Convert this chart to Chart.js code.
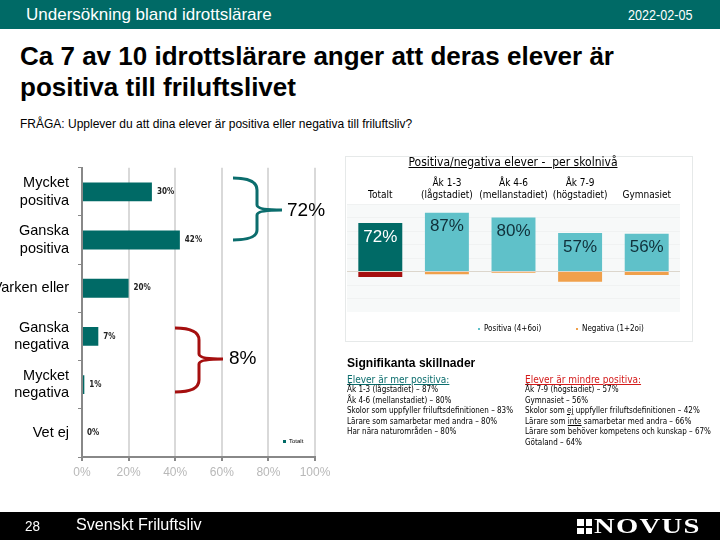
<!DOCTYPE html>
<html>
<head>
<meta charset="utf-8">
<script src="https://cdn.jsdelivr.net/npm/chart.js@4.4.1/dist/chart.umd.min.js"></script>
<style>
    body { margin: 0; width: 720px; height: 540px; position: relative; overflow: hidden; background: #fff;
           font-family: "Liberation Sans", Arial, sans-serif; }
    .abs { position: absolute; white-space: nowrap; }
    .narrow { font-family: "Liberation Sans", Arial, sans-serif; transform-origin: 0 0; }
    #header { left: 0; top: 0; width: 720px; height: 29px; background: #006a66; }
    #footer { left: 0; top: 512px; width: 720px; height: 28px; background: #000; }
    .sig { font-size: 8px; line-height: 10.5px; color: #000; font-family: "DejaVu Sans Condensed", sans-serif; }
</style>
</head>
<body>
<div id="header" class="abs"></div>
<div class="abs narrow" style="left:26px;top:5px;color:#fff;font-size:17px;">Undersökning bland idrottslärare</div>
<div class="abs narrow" style="left:628px;top:6px;color:#fff;font-size:15px;transform:scaleX(0.84);">2022-02-05</div>

<div class="abs narrow" style="left:20px;top:41px;font-size:26px;font-weight:bold;line-height:31px;color:#000;">Ca 7 av 10 idrottslärare anger att deras elever är<br>positiva till friluftslivet</div>
<div class="abs narrow" style="left:20px;top:117px;font-size:12px;color:#000;">FRÅGA: Upplever du att dina elever är positiva eller negativa till friluftsliv?</div>

<canvas id="leftChart" class="abs" style="left:0;top:150px;"></canvas>
<div class="abs" style="left:283px;top:438px;font-size:6px;color:#000;"><span style="display:inline-block;width:3px;height:3px;background:#006a66;margin-right:3px;vertical-align:middle;"></span>Totalt</div>

<svg class="abs" style="left:0;top:0;" width="720" height="540">
    <path d="M233 178 Q257 178 257 190 L257 205 Q257 210 282 210 Q257 210 257 215 L257 230 Q257 240 233 240"
          fill="none" stroke="#0b6d6d" stroke-width="3"/>
    <path d="M175 328 Q199 328 199 340 L199 354 Q199 359 223 359 Q199 359 199 364 L199 380 Q199 392 175 392"
          fill="none" stroke="#a50f0f" stroke-width="3"/>
</svg>
<div class="abs" style="left:287px;top:199px;font-size:19px;color:#000;">72%</div>
<div class="abs" style="left:229px;top:347px;font-size:19px;color:#000;">8%</div>

<div class="abs" style="left:345px;top:156px;width:346px;height:184px;border:1px solid #e6e9e9;"></div>
<div class="abs" style="left:345px;top:155px;width:336px;text-align:center;font-size:12px;text-decoration:underline;color:#000;font-family:'DejaVu Sans Condensed',sans-serif;">Positiva/negativa elever -&nbsp; per skolnivå</div>
<canvas id="rightChart" class="abs" style="left:347px;top:156px;"></canvas>
<div class="abs sig" style="left:478px;top:324px;"><span style="display:inline-block;width:2px;height:2px;background:#5fc1c9;margin-right:4px;vertical-align:middle;"></span>Positiva (4+6oi)</div>
<div class="abs sig" style="left:576px;top:324px;"><span style="display:inline-block;width:2px;height:2px;background:#f0a04b;margin-right:4px;vertical-align:middle;"></span>Negativa (1+2oi)</div>

<div class="abs" style="left:347px;top:355px;font-size:13px;font-weight:bold;color:#000;transform:scaleX(0.93);transform-origin:0 0;">Signifikanta skillnader</div>
<div class="abs sig" style="left:347px;top:374px;">
    <div style="font-size:10px;line-height:11px;color:#0b6d6d;text-decoration:underline;">Elever är mer positiva:</div>
    <div>Åk 1-3 (lågstadiet) – 87%</div>
    <div>Åk 4-6 (mellanstadiet) – 80%</div>
    <div>Skolor som uppfyller friluftsdefinitionen – 83%</div>
    <div>Lärare som samarbetar med andra – 80%</div>
    <div>Har nära naturområden – 80%</div>
</div>
<div class="abs sig" style="left:525px;top:374px;">
    <div style="font-size:10px;line-height:11px;color:#d41a1a;text-decoration:underline;">Elever är mindre positiva:</div>
    <div>Åk 7-9 (högstadiet) – 57%</div>
    <div>Gymnasiet – 56%</div>
    <div>Skolor som <u>ej</u> uppfyller friluftsdefinitionen – 42%</div>
    <div>Lärare som <u>inte</u> samarbetar med andra – 66%</div>
    <div>Lärare som behöver kompetens och kunskap – 67%</div>
    <div>Götaland – 64%</div>
</div>

<div id="footer" class="abs"></div>
<div class="abs narrow" style="left:25px;top:517px;color:#fff;font-size:15px;transform:scaleX(0.9);">28</div>
<div class="abs narrow" style="left:76px;top:515px;color:#fff;font-size:17px;transform:scaleX(0.95);">Svenskt Friluftsliv</div>
<div class="abs" style="left:577px;top:519px;width:15px;height:15px;background:
        linear-gradient(#000,#000) 7px 0/2px 15px no-repeat,
        linear-gradient(#000,#000) 0 7px/15px 2px no-repeat,#fff;"></div>
<div class="abs" style="left:594px;top:512px;color:#fff;font-size:22px;font-weight:bold;font-family:'Liberation Serif',serif;letter-spacing:1px;line-height:28px;transform:scaleX(1.3);transform-origin:0 0;">NOVUS</div>

<script>
// Left chart: answer distribution (Totalt)
const answerLabels = [['Mycket', 'positiva'], ['Ganska', 'positiva'], 'Varken eller', ['Ganska', 'negativa'], ['Mycket', 'negativa'], 'Vet ej'];
const answerValues = [30, 42, 20, 7, 1, 0];

// Right chart: positive / negative per school level
const levelLabels = ['Totalt', ['Åk 1-3', '(lågstadiet)'], ['Åk 4-6', '(mellanstadiet)'], ['Åk 7-9', '(högstadiet)'], 'Gymnasiet'];
const positiveValues = [72, 87, 80, 57, 56];
const negativeValues = [-8, -4, -2, -15, -5];

const TEAL = '#006a66';
const LIGHT_TEAL = '#5fc1c9';
const ORANGE = '#f0a04b';
const DARK_RED = '#a50f0f';

// Small value labels at the end of the horizontal bars
const barEndLabels = {
    id: 'barEndLabels',
    afterDatasetsDraw(chart) {
        const ctx = chart.ctx;
        const meta = chart.getDatasetMeta(0);
        ctx.save();
        ctx.font = 'bold 8px "DejaVu Sans Condensed", sans-serif';
        ctx.fillStyle = '#222';
        ctx.textBaseline = 'middle';
        meta.data.forEach((bar, i) => {
            ctx.fillText(answerValues[i] + '%', bar.x + 5, bar.y);
        });
        ctx.restore();
    }
};

// Chart area background and labels inside the positive bars
const levelDecor = {
    id: 'levelDecor',
    beforeDraw(chart) {
        const a = chart.chartArea;
        chart.ctx.save();
        chart.ctx.fillStyle = '#f7f9f9';
        chart.ctx.fillRect(a.left, a.top, a.right - a.left, a.bottom - a.top);
        chart.ctx.restore();
    },
    afterDatasetsDraw(chart) {
        const ctx = chart.ctx;
        const meta = chart.getDatasetMeta(0);
        ctx.save();
        ctx.font = '17px "Liberation Sans", Arial, sans-serif';
        ctx.textAlign = 'center';
        ctx.textBaseline = 'middle';
        meta.data.forEach((bar, i) => {
            ctx.fillStyle = i === 0 ? '#ffffff' : '#10303a';
            ctx.fillText(positiveValues[i] + '%', bar.x, bar.y + 14);
        });
        ctx.restore();
    }
};

function createAnswerChart() {
    const canvas = document.getElementById('leftChart');
    canvas.width = 335;
    canvas.height = 335;
    return new Chart(canvas, {
        type: 'bar',
        data: {
            labels: answerLabels,
            datasets: [{
                label: 'Totalt',
                data: answerValues,
                backgroundColor: TEAL,
                barPercentage: 0.39,
                categoryPercentage: 1
            }]
        },
        options: {
            indexAxis: 'y',
            responsive: false,
            animation: false,
            layout: { padding: { top: 10, right: 20, left: 0, bottom: 0 } },
            plugins: { legend: { display: false }, tooltip: { enabled: false } },
            scales: {
                x: {
                    min: 0,
                    max: 100,
                    ticks: {
                        stepSize: 20,
                        color: '#b8b8b8',
                        padding: 4,
                        font: { size: 12, family: '"Liberation Sans", Arial, sans-serif' },
                        callback: v => v + '%'
                    },
                    grid: { color: '#d9d9d9', lineWidth: 2, tickColor: '#888', tickLength: 4 },
                    border: { color: '#888', width: 2 },
                    afterFit: s => { s.height = 28; }
                },
                y: {
                    ticks: {
                        color: '#000',
                        padding: 9,
                        font: { size: 14.5, family: '"Liberation Sans", Arial, sans-serif', lineHeight: 1.2 }
                    },
                    grid: { drawOnChartArea: false, color: '#888', tickLength: 4 },
                    border: { color: '#888', width: 2 },
                    afterFit: s => { s.width = 82; }
                }
            }
        },
        plugins: [barEndLabels]
    });
}

function createLevelChart() {
    const canvas = document.getElementById('rightChart');
    canvas.width = 333;
    canvas.height = 156;
    return new Chart(canvas, {
        type: 'bar',
        data: {
            labels: levelLabels,
            datasets: [
                {
                    label: 'Positiva (4+6oi)',
                    data: positiveValues,
                    backgroundColor: [TEAL, LIGHT_TEAL, LIGHT_TEAL, LIGHT_TEAL, LIGHT_TEAL],
                    barPercentage: 0.66,
                    categoryPercentage: 1
                },
                {
                    label: 'Negativa (1+2oi)',
                    data: negativeValues,
                    backgroundColor: [DARK_RED, ORANGE, ORANGE, ORANGE, ORANGE],
                    barPercentage: 0.66,
                    categoryPercentage: 1
                }
            ]
        },
        options: {
            responsive: false,
            animation: false,
            layout: { padding: 0 },
            plugins: { legend: { display: false }, tooltip: { enabled: false } },
            scales: {
                x: {
                    position: 'top',
                    stacked: true,
                    ticks: {
                        color: '#000',
                        padding: 3,
                        maxRotation: 0,
                        autoSkip: false,
                        font: { size: 10, family: '"DejaVu Sans Condensed", sans-serif', lineHeight: 1.2 }
                    },
                    grid: { display: false, drawTicks: false },
                    border: { display: false },
                    afterFit: s => { s.height = 48; }
                },
                y: {
                    display: true,
                    stacked: true,
                    min: -60,
                    max: 100,
                    ticks: { display: false, stepSize: 20 },
                    grid: {
                        color: ctx => ctx.tick.value === 0 ? '#dcd6cc' : '#f0f2f2',
                        drawTicks: false
                    },
                    border: { display: false },
                    afterFit: s => { s.width = 0; }
                }
            }
        },
        plugins: [levelDecor]
    });
}

document.addEventListener('DOMContentLoaded', () => {
    createAnswerChart();
    createLevelChart();
});
</script>
</body>
</html>
